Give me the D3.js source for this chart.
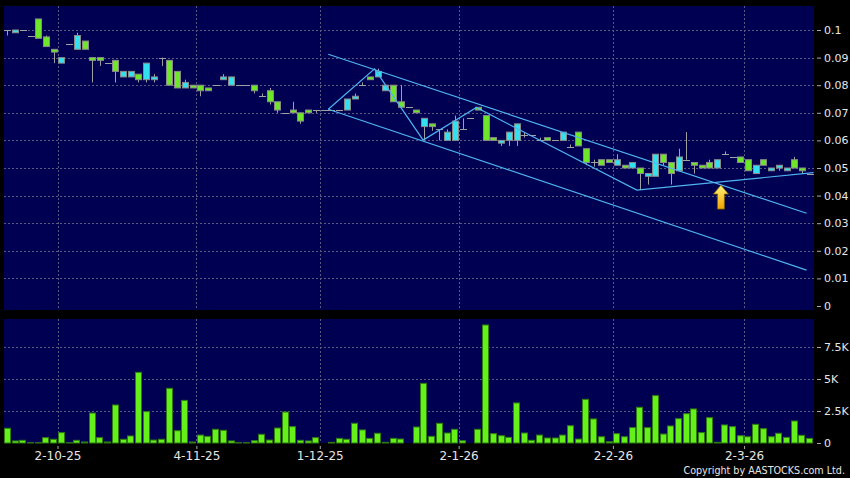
<!DOCTYPE html>
<html><head><meta charset="utf-8">
<script src="https://cdn.jsdelivr.net/npm/d3@7/dist/d3.min.js"></script>
<style>html,body{margin:0;padding:0;background:#000;}svg{display:block;}</style>
</head><body>
<svg id="c" width="850" height="478"></svg>
<script>
// ---------- DATA ----------
const openP  = [.100,.099,.100,.098,.104,.0975,.093,.088,.095,.093,.096,.090,.090,.088,.089,.083,.083,.084,.082,.082,
  .090,.089,.085,.079,.080,.080,.079,.080,.082,.080,.080,.080,.080,.076,.078,.074,.070,.071,.070,.071,
  .071,.071,.071,.071,.071,.075,.080,.083,.083,.078,.080,.074,.072,.071,.065,.066,.064,.060,.060,.064,
  .068,.072,.069,.061,.059,.060,.060,.062,.062,.060,.061,.060,.060,.0575,.063,.057,.052,.053,.053,.051,
  .051,.050,.050,.047,.047,.055,.052,.049,.053,.052,.051,.052,.050,.055,.054,.054,.053,.048,.053,.049,
  .050,.049,.053,.050,.048];
const highP  = [.100,.100,.100,.098,.104,.098,.093,.090,.095,.099,.096,.090,.090,.088,.089,.085,.085,.084,.088,.084,
  .090,.089,.085,.082,.080,.080,.079,.080,.084,.083,.080,.080,.080,.077,.079,.074,.070,.074,.070,.071,
  .071,.071,.071,.071,.075,.077,.081,.083,.086,.080,.080,.080,.072,.071,.068,.066,.064,.064,.069,.068,
  .068,.072,.069,.061,.060,.063,.066,.063,.062,.061,.061,.060,.063,.0585,.063,.057,.053,.053,.053,.055,
  .051,.052,.050,.048,.055,.055,.052,.057,.063,.052,.051,.053,.053,.056,.054,.054,.053,.051,.053,.050,
  .051,.050,.054,.050,.048];
const lowP   = [.098,.099,.100,.098,.097,.094,.088,.088,.095,.093,.093,.081,.087,.088,.081,.083,.083,.081,.081,.081,
  .087,.080,.079,.079,.079,.076,.078,.080,.082,.080,.080,.080,.077,.076,.073,.070,.070,.070,.066,.070,
  .070,.071,.071,.071,.071,.075,.080,.082,.083,.078,.074,.072,.072,.070,.060,.0635,.060,.060,.060,.064,
  .068,.071,.060,.060,.058,.058,.058,.061,.062,.060,.060,.060,.060,.0575,.058,.051,.0505,.051,.052,.051,
  .050,.050,.042,.044,.047,.051,.044,.049,.053,.048,.050,.050,.050,.055,.054,.052,.049,.048,.051,.049,
  .049,.049,.050,.048,.048];
const closeP = [.100,.100,.100,.098,.097,.094,.092,.090,.095,.098,.093,.089,.089,.088,.085,.085,.085,.082,.088,.083,
  .090,.080,.079,.081,.079,.078,.078,.080,.083,.083,.080,.080,.078,.076,.074,.071,.070,.070,.067,.070,
  .071,.071,.071,.071,.075,.076,.080,.082,.085,.080,.074,.072,.072,.070,.068,.065,.064,.063,.067,.064,
  .068,.071,.060,.060,.060,.063,.066,.062,.062,.060,.060,.060,.063,.0575,.058,.052,.052,.051,.052,.053,
  .050,.052,.048,.048,.055,.052,.048,.054,.053,.051,.050,.050,.053,.055,.054,.052,.049,.051,.051,.050,
  .051,.050,.050,.049,.048];
const volume = [1150,160,210,20,20,420,290,810,20,210,80,2340,420,80,2970,290,550,5520,2450,230,
  290,4270,960,3330,80,620,520,1070,990,160,20,20,180,680,230,1170,2420,1280,210,160,
  420,0,50,360,290,1540,1020,360,760,50,360,310,0,1250,4660,520,1540,780,1070,180,
  0,1070,9220,730,570,440,3130,780,210,620,390,390,620,1350,310,3410,1880,490,100,730,
  490,1200,2790,1200,3700,700,1330,1900,2290,2660,810,1980,50,1410,1280,570,490,1460,1120,490,
  760,440,1720,600,360];
const dateLabels = ["2-10-25","4-11-25","1-12-25","2-1-26","2-2-26","2-3-26"];
const dateIndex  = [6.5, 24.5, 40.5, 58.5, 78.5, 95.5];
const priceTicks = [0,0.01,0.02,0.03,0.04,0.05,0.06,0.07,0.08,0.09,0.1];
const volTicks   = [0,2500,5000,7500];
// drawn trend lines: [index, price] pairs
const channelUpper = [[41.6,0.0912],[103.6,0.0336]];
const channelLower = [[41.6,0.0713],[103.6,0.0130]];
const zigzag = [[41.6,0.0713],[47.6,0.0859],[53.9,0.0601],[60.8,0.0719],[81.6,0.0420],[104.5,0.0483]];
const arrowAt = [92.5, 0.0438];

// ---------- LAYOUT ----------
const W = 850, H = 478;
const PL = 4, PR = 814, PT = 6, PB = 310, VT = 319, VB = 443;
const svg = d3.select("#c");
svg.append("rect").attr("width",W).attr("height",H).attr("fill","#000");

const N = closeP.length;
const x = d3.scaleLinear().domain([-0.5, N-0.5]).range([3.5, 813.5]);
const y = d3.scaleLinear().domain([0, 0.1]).range([306, 30]);
const yv = d3.scaleLinear().domain([0, 7500]).range([443, 347]);

const BG = "#000052", GRID = "#5a5a80", TXT = "#e6e6e6";
svg.append("rect").attr("x",PL).attr("y",PT).attr("width",PR-PL).attr("height",PB-PT).attr("fill",BG);
svg.append("rect").attr("x",PL).attr("y",VT).attr("width",PR-PL).attr("height",VB-VT).attr("fill",BG);

const font = "'DejaVu Sans', sans-serif";
// price grid + axis
const gP = svg.append("g");
gP.selectAll("line.h").data(priceTicks.filter(d=>d>0)).join("line")
  .attr("x1",PL).attr("x2",PR).attr("y1",d=>Math.round(y(d))+0.5).attr("y2",d=>Math.round(y(d))+0.5)
  .attr("stroke",GRID).attr("stroke-dasharray","2,2");
gP.selectAll("line.v").data(dateIndex).join("line")
  .attr("x1",d=>Math.round(x(d))+0.5).attr("x2",d=>Math.round(x(d))+0.5).attr("y1",PT).attr("y2",PB)
  .attr("stroke",GRID).attr("stroke-dasharray","2,2");
const axP = d3.axisRight(y).tickValues(priceTicks).tickSize(4).tickPadding(3).tickFormat(d=>d===0?"0":d3.format("~g")(d));
const gAxP = svg.append("g").attr("transform",`translate(${PR+3},0)`).call(axP);
// volume grid + axis
const gV = svg.append("g");
gV.selectAll("line.h").data(volTicks.filter(d=>d>0)).join("line")
  .attr("x1",PL).attr("x2",PR).attr("y1",d=>Math.round(yv(d))+0.5).attr("y2",d=>Math.round(yv(d))+0.5)
  .attr("stroke",GRID).attr("stroke-dasharray","2,2");
gV.selectAll("line.v").data(dateIndex).join("line")
  .attr("x1",d=>Math.round(x(d))+0.5).attr("x2",d=>Math.round(x(d))+0.5).attr("y1",VT).attr("y2",VB)
  .attr("stroke",GRID).attr("stroke-dasharray","2,2");
const axV = d3.axisRight(yv).tickValues(volTicks).tickSize(4).tickPadding(3).tickFormat(d=>d===0?"0":(d/1000)+"K");
const gAxV = svg.append("g").attr("transform",`translate(${PR+3},0)`).call(axV);
[gAxP,gAxV].forEach(g=>{
  g.select(".domain").remove();
  g.selectAll(".tick line").attr("stroke","#aaaaaa");
  g.selectAll(".tick text").attr("fill",TXT).style("font-family",font).style("font-size","11px");
});
// date axis
const axX = d3.axisBottom(x).tickValues(dateIndex).tickSize(3).tickPadding(2)
  .tickFormat((d,i)=>dateLabels[i]);
const gAxX = svg.append("g").attr("transform",`translate(0,${VB+3})`).call(axX);
gAxX.select(".domain").remove();
gAxX.selectAll(".tick line").attr("stroke","#aaaaaa");
gAxX.selectAll(".tick text").attr("fill",TXT).style("font-family",font).style("font-size","12px");

// volume bars
svg.append("g").selectAll("rect").data(volume).join("rect")
  .attr("x",(d,i)=>Math.round(x(i)-3.5)+0.5).attr("width",6)
  .attr("y",d=>yv(d)).attr("height",d=>VB-yv(d))
  .attr("fill","#66f01a").attr("stroke","#2e7d12").attr("stroke-width",1)
  .attr("display",d=>d>0?null:"none");

// candles
const idx = d3.range(N);
const gC = svg.append("g");
gC.selectAll("line.w").data(idx).join("line")
  .attr("x1",i=>Math.round(x(i))+0.5).attr("x2",i=>Math.round(x(i))+0.5)
  .attr("y1",i=>y(highP[i])).attr("y2",i=>y(lowP[i]))
  .attr("stroke","#a0a0a0");
gC.selectAll("line.f").data(idx.filter(i=>openP[i]===closeP[i])).join("line")
  .attr("x1",i=>Math.round(x(i))-3).attr("x2",i=>Math.round(x(i))+4)
  .attr("y1",i=>Math.round(y(closeP[i]))+0.5).attr("y2",i=>Math.round(y(closeP[i]))+0.5)
  .attr("stroke","#a0a0a0");
gC.selectAll("rect").data(idx.filter(i=>openP[i]!==closeP[i])).join("rect")
  .attr("x",i=>Math.round(x(i))-2.5).attr("width",6)
  .attr("y",i=>y(Math.max(openP[i],closeP[i]))).attr("height",i=>Math.abs(y(openP[i])-y(closeP[i])))
  .attr("fill",i=>closeP[i]>openP[i]?"#33e0f0":"#6ee62a")
  .attr("stroke","#8a8a8a").attr("stroke-width",1);

// trend lines
const line = d3.line().x(d=>x(d[0])).y(d=>y(d[1]));
const gT = svg.append("g").attr("fill","none").attr("stroke","#4fb4f0").attr("stroke-width",1.2);
[channelUpper, channelLower, zigzag].forEach(p=>gT.append("path").attr("d",line(p)));

// arrow
const defs = svg.append("defs");
const grad = defs.append("linearGradient").attr("id","ag").attr("x1",0).attr("x2",0).attr("y1",0).attr("y2",1);
grad.append("stop").attr("offset","0%").attr("stop-color","#fff27a");
grad.append("stop").attr("offset","100%").attr("stop-color","#f0a300");
const ax = x(arrowAt[0]), ay = y(arrowAt[1]);
svg.append("path")
  .attr("d",`M${ax},${ay} L${ax+7.5},${ay+9} L${ax+3.5},${ay+9} L${ax+3.5},${ay+24} L${ax-3.5},${ay+24} L${ax-3.5},${ay+9} L${ax-7.5},${ay+9} Z`)
  .attr("fill","url(#ag)").attr("stroke","#7a5a00").attr("stroke-width",0.8);

// copyright
svg.append("text").attr("x",845).attr("y",474).attr("text-anchor","end")
  .attr("fill",TXT).style("font-family",font).style("font-size","9.6px")
  .text("Copyright by AASTOCKS.com Ltd.");
</script>
</body></html>
